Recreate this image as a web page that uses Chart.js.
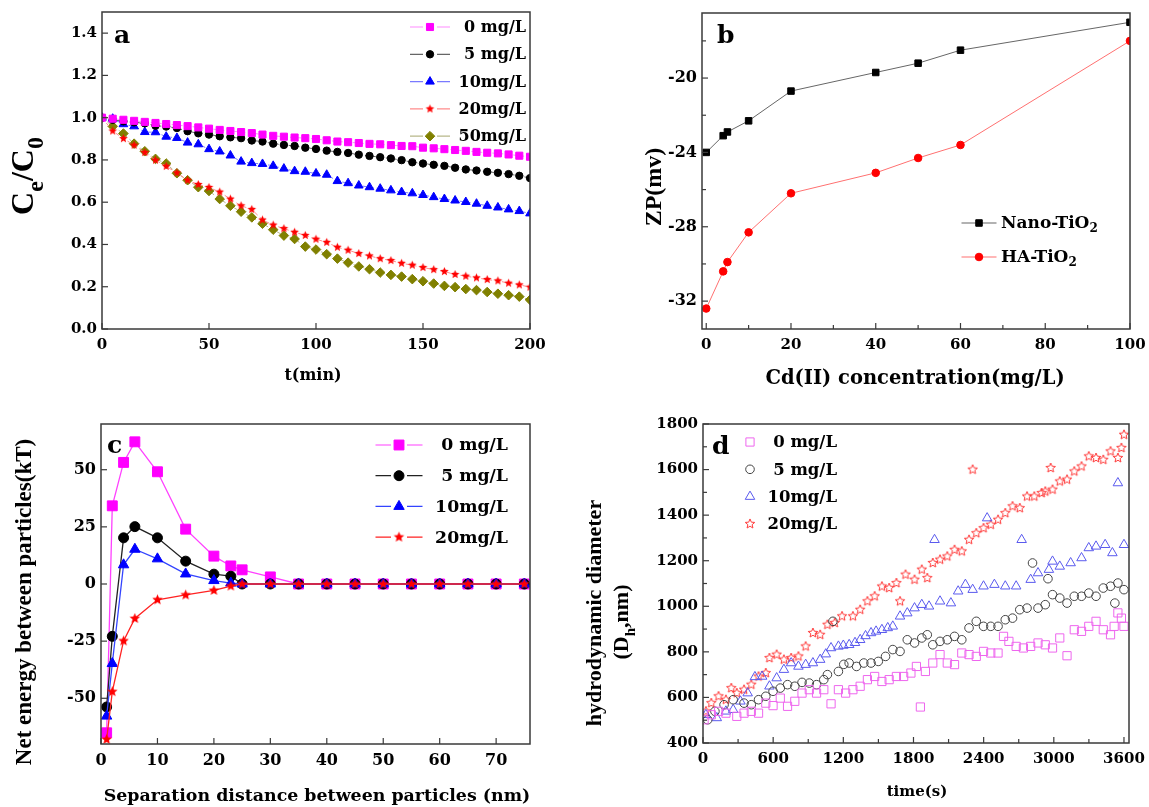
<!DOCTYPE html>
<html lang="en">
<head>
<meta charset="UTF-8">
<title>Cd(II) and TiO2 nanoparticles</title>
<script src="https://cdn.jsdelivr.net/npm/chart.js"></script>
<style>
  body { margin: 0; background: #fff; }
  #page { position: relative; width: 1149px; height: 807px; overflow: hidden; background: #fff; }
  .panel { position: absolute; }
</style>
</head>
<body>
<div id="page">
  <div class="panel" style="left:0;top:0;width:560px;height:400px"><canvas id="chartA"></canvas></div>
  <div class="panel" style="left:560px;top:0;width:589px;height:400px"><canvas id="chartB"></canvas></div>
  <div class="panel" style="left:0;top:400px;width:560px;height:407px"><canvas id="chartC"></canvas></div>
  <div class="panel" style="left:580px;top:400px;width:569px;height:407px"><canvas id="chartD"></canvas></div>
</div>
<script>
// ---- (a) Ce/C0 against time ----
const aTimes = [0,5,10,15,20,25,30,35,40,45,50,55,60,65,70,75,80,85,90,95,100,105,110,115,120,125,130,135,140,145,150,155,160,165,170,175,180,185,190,195,200];
const aLabels = ['0 mg/L', '5 mg/L', '10mg/L', '20mg/L', '50mg/L'];
const a0 = [1.000,0.995,0.990,0.985,0.980,0.975,0.970,0.965,0.960,0.954,0.948,0.942,0.937,0.932,0.927,0.920,0.914,0.910,0.906,0.903,0.899,0.893,0.887,0.884,0.880,0.876,0.874,0.870,0.866,0.865,0.858,0.855,0.851,0.847,0.843,0.838,0.834,0.831,0.826,0.820,0.815];
const a5 = [1.000,0.990,0.983,0.978,0.973,0.962,0.958,0.951,0.936,0.926,0.920,0.912,0.907,0.903,0.892,0.887,0.877,0.871,0.866,0.858,0.852,0.844,0.838,0.833,0.825,0.819,0.813,0.807,0.799,0.789,0.783,0.777,0.772,0.763,0.755,0.750,0.744,0.739,0.733,0.725,0.714];
const a10 = [1.000,0.995,0.969,0.959,0.932,0.931,0.910,0.904,0.882,0.874,0.851,0.840,0.821,0.792,0.785,0.781,0.772,0.759,0.747,0.744,0.736,0.730,0.700,0.690,0.679,0.671,0.664,0.656,0.648,0.642,0.634,0.624,0.615,0.608,0.601,0.593,0.583,0.575,0.566,0.558,0.547];
const a20 = [1.000,0.937,0.901,0.870,0.835,0.799,0.770,0.739,0.704,0.684,0.670,0.648,0.615,0.583,0.566,0.516,0.492,0.475,0.458,0.443,0.425,0.410,0.387,0.373,0.357,0.346,0.333,0.324,0.311,0.302,0.291,0.281,0.272,0.258,0.250,0.242,0.234,0.228,0.217,0.209,0.198];
const a50 = [1.000,0.959,0.925,0.877,0.841,0.805,0.783,0.737,0.704,0.671,0.653,0.615,0.583,0.555,0.528,0.498,0.470,0.442,0.426,0.390,0.376,0.354,0.333,0.314,0.296,0.283,0.267,0.256,0.248,0.236,0.226,0.215,0.204,0.198,0.189,0.184,0.175,0.167,0.160,0.153,0.138];
const aXTicks = [0, 50, 100, 150, 200];
const aYTicks = [0, 0.2, 0.4, 0.6, 0.8, 1.0, 1.2, 1.4];

// ---- (b) zeta potential ----
const bConc = [0, 4, 5, 10, 20, 40, 50, 60, 100];
const bLabels = ['Nano-TiO_2', 'HA-TiO_2'];
const bNano = [-24.0, -23.1, -22.9, -22.3, -20.7, -19.7, -19.2, -18.5, -17.0];
const bHA = [-32.4, -30.4, -29.9, -28.3, -26.2, -25.1, -24.3, -23.6, -18.0];
const bXTicks = [0, 20, 40, 60, 80, 100];
const bXMinor = [10, 30, 50, 70, 90];
const bYTicks = [-32, -28, -24, -20];
const bYMinor = [-30, -26, -22, -18];

// ---- (c) net interaction energy ----
const cDist = [1, 2, 4, 6, 10, 15, 20, 23, 25, 30, 35, 40, 45, 50, 55, 60, 65, 70, 75];
const cLabels = ['0 mg/L', '5 mg/L', '10mg/L', '20mg/L'];
const c0 = [-65.1, 34.2, 53.2, 62.2, 49.1, 24.0, 12.2, 7.9, 6.2, 3.1, 0, 0, 0, 0, 0, 0, 0, 0, 0];
const c5 = [-53.8, -22.9, 20.2, 25.1, 20.2, 10.0, 4.3, 3.4, 0, 0, 0, 0, 0, 0, 0, 0, 0, 0, 0];
const c10 = [-57.8, -34.8, 8.4, 15.2, 11.0, 4.4, 1.5, 0.4, 0, 0, 0, 0, 0, 0, 0, 0, 0, 0, 0];
const c20 = [-68.0, -47.1, -24.9, -15.1, -6.9, -4.8, -2.8, -0.9, 0, 0, 0, 0, 0, 0, 0, 0, 0, 0, 0];
const cXTicks = [0, 10, 20, 30, 40, 50, 60, 70];
const cYTicks = [-50, -25, 0, 25, 50];

// ---- (d) hydrodynamic diameter against time ----
const dLabels = ['0 mg/L', '5 mg/L', '10mg/L', '20mg/L'];
const d0t = [9,71,133,196,289,351,413,475,537,599,661,723,785,847,909,971,1033,1095,1158,1220,1282,1344,1406,1468,1530,1592,1654,1716,1778,1825,1859,1902,1965,2027,2089,2151,2213,2275,2337,2399,2461,2523,2570,2616,2678,2740,2802,2865,2927,2989,3051,3113,3175,3237,3299,3361,3423,3485,3516,3548,3578,3600];
const d0v = [502,524,539,531,517,531,539,531,575,564,597,561,583,619,634,619,634,572,634,619,634,649,678,692,670,678,692,692,707,736,558,714,751,788,751,744,795,788,780,802,795,795,868,846,824,817,824,839,831,817,861,783,897,890,912,934,897,875,912,971,948,912];
const d5t = [40,102,180,258,351,413,475,537,599,661,723,785,847,909,971,1033,1064,1111,1158,1204,1250,1313,1375,1437,1499,1561,1623,1685,1747,1809,1871,1918,1965,2027,2089,2151,2213,2275,2337,2399,2461,2523,2585,2647,2709,2771,2818,2865,2927,2950,2989,3051,3113,3175,3237,3299,3361,3423,3485,3522,3548,3600];
const d5v = [502,539,568,590,575,568,590,605,627,641,656,649,666,663,656,678,700,934,714,745,751,736,751,751,758,780,810,802,853,839,861,875,831,846,853,868,853,905,934,912,912,912,941,948,985,992,1190,992,1007,1121,1051,1036,1014,1044,1044,1058,1044,1080,1088,1014,1102,1073];
const d10t = [25,118,196,258,320,382,444,506,568,630,692,754,816,878,940,1002,1050,1095,1158,1200,1250,1300,1344,1390,1437,1480,1530,1580,1623,1685,1747,1809,1871,1933,1980,2027,2120,2182,2244,2306,2399,2430,2492,2585,2678,2725,2802,2865,2958,2989,3051,3144,3237,3299,3361,3439,3501,3548,3600];
const d10v = [524,510,539,546,583,619,690,692,649,685,722,751,736,744,751,766,790,817,824,828,831,840,853,870,883,890,897,905,912,956,970,992,1007,1000,1292,1022,1014,1066,1095,1073,1088,1387,1095,1088,1088,1292,1117,1146,1161,1197,1175,1190,1212,1256,1263,1270,1234,1541,1270];
const d20t = [25,71,133,196,242,289,351,413,475,537,568,630,692,754,816,878,940,1002,1064,1127,1189,1282,1344,1406,1468,1530,1592,1654,1685,1732,1809,1871,1918,1965,2027,2089,2151,2213,2275,2306,2337,2399,2461,2523,2585,2647,2709,2771,2833,2896,2927,2973,2989,3051,3113,3175,3237,3299,3361,3423,3485,3548,3578,3600];
const d20v = [539,575,605,590,641,619,634,656,692,707,773,788,766,773,780,824,883,875,919,927,956,956,985,1022,1044,1087,1080,1102,1022,1139,1117,1161,1124,1190,1205,1219,1248,1241,1292,1600,1321,1343,1358,1380,1409,1439,1431,1482,1482,1497,1504,1607,1512,1548,1556,1592,1614,1658,1651,1643,1680,1651,1695,1753];
const dXTicks = [0, 600, 1200, 1800, 2400, 3000, 3600];
const dXMinor = [300, 900, 1500, 2100, 2700, 3300];
const dYTicks = [400, 600, 800, 1000, 1200, 1400, 1600, 1800];
const dYMinor = [500, 700, 900, 1100, 1300, 1500, 1700];

const SW = '"DejaVu Serif", serif';
const SN = '"Liberation Serif", "Times New Roman", serif';
Chart.defaults.font.family = SW;
Chart.defaults.font.weight = 'bold';
Chart.defaults.color = '#000';

// five point star marker (filled or hollow)
function star(size, fill, stroke) {
  const c = document.createElement('canvas');
  c.width = c.height = size;
  const g = c.getContext('2d');
  const r = size / 2 - 1, ri = r * 0.45;
  g.beginPath();
  for (let i = 0; i < 10; i++) {
    const rr = i % 2 ? ri : r, ang = -Math.PI / 2 + i * Math.PI / 5;
    g.lineTo(size / 2 + rr * Math.cos(ang), size / 2 + rr * Math.sin(ang));
  }
  g.closePath();
  if (fill) { g.fillStyle = fill; g.fill(); }
  if (stroke) { g.strokeStyle = stroke; g.lineWidth = 1; g.stroke(); }
  return c;
}

// text with "_x" subscripts
function drawRich(ctx, text, x, y, o) {
  const parts = [];
  for (let i = 0; i < text.length; i++) {
    if (text[i] === '_' && i + 1 < text.length) { parts.push({ t: text[i + 1], sub: true }); i++; }
    else if (parts.length && !parts[parts.length - 1].sub) parts[parts.length - 1].t += text[i];
    else parts.push({ t: text[i], sub: false });
  }
  const big = 'bold ' + o.size + 'px ' + o.family;
  const small = 'bold ' + Math.round(o.size * (o.subScale || 0.68)) + 'px ' + o.family;
  let w = 0;
  parts.forEach(p => { ctx.font = p.sub ? small : big; p.w = ctx.measureText(p.t).width; w += p.w; });
  let cx = o.align === 'right' ? x - w : o.align === 'center' ? x - w / 2 : x;
  parts.forEach(p => {
    ctx.font = p.sub ? small : big;
    ctx.fillText(p.t, cx, p.sub ? y + o.size * 0.3 : y);
    cx += p.w;
  });
}

const decoCfg = {
  chartA: {
    legend: { x: 430, len: 40, gap: 7, y: 27, dy: 27.3, tx: 526, size: 16, align: 'right' },
    texts: [
      { t: 'a', x: 114, y: 43, size: 25, fam: SW, align: 'left' },
      { t: 't(min)', x: 313, y: 380, size: 16, fam: SW },
      { t: 'C_e/C_0', x: 33, y: 176, size: 32, fam: SN, rot: true, sub: 0.75 }
    ]
  },
  chartB: {
    minorX: bXMinor, minorY: bYMinor,
    legend: { x: 419, len: 35, gap: 0, y: 223, dy: 34, tx: 441, size: 17, align: 'left' },
    texts: [
      { t: 'b', x: 157, y: 43, size: 25, fam: SW, align: 'left' },
      { t: 'Cd(II) concentration(mg/L)', x: 355, y: 384, size: 19.5, fam: SW },
      { t: 'ZP(mv)', x: 101, y: 187, size: 24, fam: SN, rot: true }
    ]
  },
  chartC: {
    legend: { x: 399, len: 47, gap: 8, y: 45, dy: 30.7, tx: 508, size: 17.3, align: 'right' },
    texts: [
      { t: 'c', x: 107, y: 53, size: 25, fam: SW, align: 'left' },
      { t: 'Separation distance between particles (nm)', x: 317, y: 401, size: 17.4, fam: SW },
      { t: 'Net energy between particles(kT)', x: 31, y: 202, size: 23, fam: SN, rot: true }
    ]
  },
  chartD: {
    minorX: dXMinor, minorY: dYMinor,
    legend: { x: 170, len: 0, gap: 0, y: 42, dy: 27.3, tx: 257, size: 16.5, align: 'right' },
    texts: [
      { t: 'd', x: 132, y: 54, size: 25, fam: SW, align: 'left' },
      { t: 'time(s)', x: 337, y: 396, size: 15, fam: SW },
      { t: 'hydrodynamic diameter', x: 21, y: 213, size: 22, fam: SN, rot: true },
      { t: '(D_h,nm)', x: 48, y: 222, size: 22, fam: SN, rot: true }
    ]
  }
};

// frame, inward ticks, legend with line + marker, titles
const deco = {
  id: 'deco',
  afterDatasetsDraw(chart) {
    const o = decoCfg[chart.canvas.id];
    if (!o) return;
    const ctx = chart.ctx, a = chart.chartArea, sx = chart.scales.x, sy = chart.scales.y;
    ctx.save();
    ctx.strokeStyle = '#3a3a3a';
    ctx.lineWidth = 1.5;
    ctx.strokeRect(a.left, a.top, a.right - a.left, a.bottom - a.top);
    ctx.lineWidth = 1.2;
    const tick = (vals, len, horiz) => vals.forEach(v => {
      ctx.beginPath();
      if (horiz) { const p = sx.getPixelForValue(v); ctx.moveTo(p, a.bottom); ctx.lineTo(p, a.bottom - len); }
      else { const p = sy.getPixelForValue(v); ctx.moveTo(a.left, p); ctx.lineTo(a.left + len, p); }
      ctx.stroke();
    });
    tick(sx.ticks.map(t => t.value), 6, true);
    tick(o.minorX || [], 4, true);
    tick(sy.ticks.map(t => t.value), 6, false);
    tick(o.minorY || [], 4, false);

    const L = o.legend;
    chart.data.datasets.forEach((ds, i) => {
      const y = L.y + i * L.dy;
      if (L.len) {
        ctx.strokeStyle = ds.borderColor;
        ctx.lineWidth = 1.2;
        ctx.beginPath();
        ctx.moveTo(L.x - L.len / 2, y); ctx.lineTo(L.x - L.gap, y);
        ctx.moveTo(L.x + L.gap, y); ctx.lineTo(L.x + L.len / 2, y);
        ctx.stroke();
      }
      ctx.fillStyle = ds.pointBackgroundColor;
      ctx.strokeStyle = ds.pointBorderColor;
      ctx.lineWidth = ds.pointBorderWidth;
      Chart.helpers.drawPoint(ctx, { pointStyle: ds.pointStyle, radius: ds.pointRadius, borderWidth: ds.pointBorderWidth, rotation: 0 }, L.x, y);
      ctx.fillStyle = '#000';
      ctx.textAlign = 'left';
      ctx.textBaseline = 'middle';
      drawRich(ctx, ds.label, L.tx, y + 1, { size: L.size, family: SW, align: L.align });
    });

    o.texts.forEach(t => {
      ctx.save();
      ctx.translate(t.x, t.y);
      if (t.rot) ctx.rotate(-Math.PI / 2);
      ctx.fillStyle = '#000';
      ctx.textAlign = 'left';
      ctx.textBaseline = 'alphabetic';
      drawRich(ctx, t.t, 0, 0, { size: t.size, family: t.fam, align: t.align || 'center', subScale: t.sub });
      ctx.restore();
    });
    ctx.restore();
  }
};
Chart.register(deco);

function xy(xs, ys) { return xs.map((x, i) => ({ x: x, y: ys[i] })); }

function axis(min, max, ticks, size, pad, fmt, fit) {
  return {
    type: 'linear', min: min, max: max,
    grid: { display: false, drawTicks: false },
    border: { display: false },
    ticks: { color: '#000', font: { family: SW, weight: 'bold', size: size }, padding: pad, autoSkip: false, maxRotation: 0, callback: fmt },
    afterBuildTicks: s => { s.ticks = ticks.map(v => ({ value: v })); },
    afterFit: fit
  };
}
const fitY = w => s => { s.width = w; s.paddingTop = 0; s.paddingBottom = 0; };
const fitX = h => s => { s.height = h; s.paddingLeft = 0; s.paddingRight = 0; };
const plain = v => String(v);

function options(padding, x, y) {
  return {
    responsive: true, maintainAspectRatio: false, animation: false, events: [],
    layout: { padding: padding },
    plugins: { legend: { display: false }, tooltip: { enabled: false } },
    scales: { x: x, y: y }
  };
}

function series(label, xs, ys, o) {
  return Object.assign({ label: label, data: xy(xs, ys), borderWidth: 1, pointBorderWidth: 1, tension: 0 }, o);
}

new Chart(document.getElementById('chartA'), {
  type: 'line',
  data: { datasets: [
    series(aLabels[0], aTimes, a0, { borderColor: '#ff8cff', borderDash: [4, 3], pointStyle: 'rect', pointRadius: 5, pointBackgroundColor: '#ff00ff', pointBorderColor: '#ff00ff' }),
    series(aLabels[1], aTimes, a5, { borderColor: '#666666', borderDash: [4, 3], pointStyle: 'circle', pointRadius: 3.7, pointBackgroundColor: '#000', pointBorderColor: '#000' }),
    series(aLabels[2], aTimes, a10, { borderColor: '#7a7aff', borderDash: [4, 3], pointStyle: 'triangle', pointRadius: 5, pointBackgroundColor: '#0000ff', pointBorderColor: '#0000ff' }),
    series(aLabels[3], aTimes, a20, { borderColor: '#ff8c8c', borderDash: [4, 3], pointStyle: star(11, '#ff0000'), pointRadius: 5, pointBackgroundColor: '#ff0000', pointBorderColor: '#ff0000' }),
    series(aLabels[4], aTimes, a50, { borderColor: '#b8b88a', borderDash: [4, 3], pointStyle: 'rectRot', pointRadius: 4.8, pointBackgroundColor: '#808000', pointBorderColor: '#808000' })
  ] },
  options: options({ left: 0, top: 12, right: 30, bottom: 0 },
    axis(0, 200, aXTicks, 15, 7, plain, fitX(71)),
    axis(0, 1.5, aYTicks, 15, 5, v => Number(v).toFixed(1), fitY(102)))
});

new Chart(document.getElementById('chartB'), {
  type: 'line',
  data: { datasets: [
    series(bLabels[0], bConc, bNano, { borderColor: '#666666', pointStyle: 'rect', pointRadius: 4.6, pointBackgroundColor: '#000', pointBorderColor: '#000' }),
    series(bLabels[1], bConc, bHA, { borderColor: '#ff7070', pointStyle: 'circle', pointRadius: 3.8, pointBackgroundColor: '#ff0000', pointBorderColor: '#ff0000' })
  ] },
  options: options({ left: 0, top: 13, right: 19, bottom: 0 },
    axis(-1, 100, bXTicks, 15, 7, plain, fitX(71)),
    axis(-33.5, -16.5, bYTicks, 16, 5, plain, fitY(142)))
});

new Chart(document.getElementById('chartC'), {
  type: 'line',
  data: { datasets: [
    series(cLabels[0], cDist, c0, { order: 4, borderColor: '#ff40ff', borderWidth: 1.3, pointStyle: 'rect', pointRadius: 7, pointBackgroundColor: '#ff00ff', pointBorderColor: '#ff00ff' }),
    series(cLabels[1], cDist, c5, { order: 3, borderColor: '#222222', borderWidth: 1.3, pointStyle: 'circle', pointRadius: 5, pointBackgroundColor: '#000', pointBorderColor: '#000' }),
    series(cLabels[2], cDist, c10, { order: 2, borderColor: '#3344ff', borderWidth: 1.3, pointStyle: 'triangle', pointRadius: 6, pointBackgroundColor: '#0000ff', pointBorderColor: '#0000ff' }),
    series(cLabels[3], cDist, c20, { order: 1, borderColor: '#ff2222', borderWidth: 1.3, pointStyle: star(13, '#ff0000'), pointRadius: 6, pointBackgroundColor: '#ff0000', pointBorderColor: '#ff0000' })
  ] },
  options: options({ left: 0, top: 24, right: 30, bottom: 0 },
    axis(0, 76, cXTicks, 16, 7, plain, fitX(63)),
    axis(-70, 70, cYTicks, 16, 5, plain, fitY(101)))
});

const hollow = 'rgba(255,255,255,0)';
new Chart(document.getElementById('chartD'), {
  type: 'line',
  data: { datasets: [
    series(dLabels[0], d0t, d0v, { showLine: false, borderColor: '#ee66ee', pointStyle: 'rect', pointRadius: 5.8, pointBackgroundColor: hollow, pointBorderColor: '#ee66ee' }),
    series(dLabels[1], d5t, d5v, { showLine: false, borderColor: '#444444', pointStyle: 'circle', pointRadius: 4.3, pointBackgroundColor: hollow, pointBorderColor: '#444444' }),
    series(dLabels[2], d10t, d10v, { showLine: false, borderColor: '#5a5aee', pointStyle: 'triangle', pointRadius: 5.5, pointBackgroundColor: hollow, pointBorderColor: '#5a5aee' }),
    series(dLabels[3], d20t, d20v, { showLine: false, borderColor: '#ff3a3a', pointStyle: star(12, null, '#ff3a3a'), pointRadius: 5, pointBackgroundColor: hollow, pointBorderColor: '#ff3a3a' })
  ] },
  options: options({ left: 0, top: 24, right: 20, bottom: 0 },
    axis(0, 3643, dXTicks, 15, 7, plain, fitX(64)),
    axis(400, 1800, dYTicks, 15, 5, plain, fitY(123)))
});
</script>
</body>
</html>
